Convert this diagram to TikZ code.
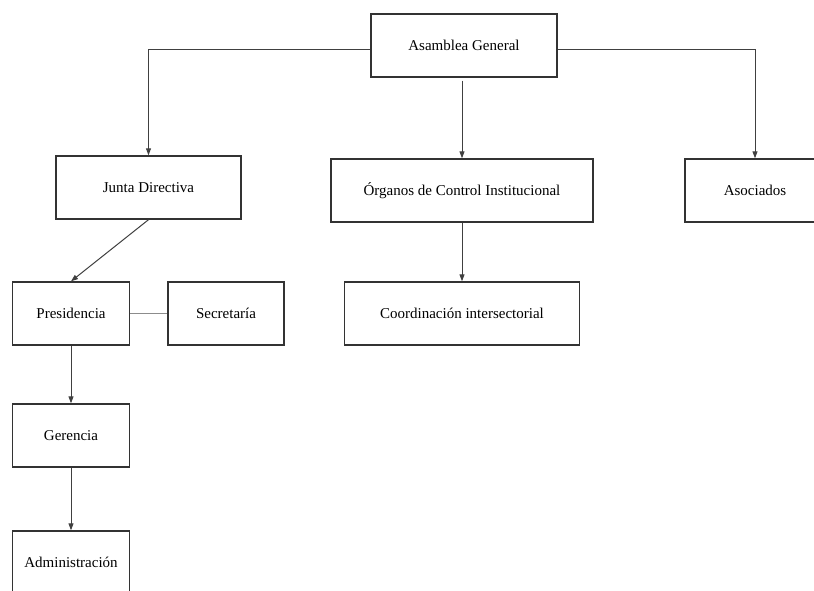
\documentclass[tikz,border=0pt]{standalone}
\usepackage{fontspec}
\setmainfont{Liberation Serif}
\usetikzlibrary{arrows.meta}
\definecolor{boxline}{HTML}{333333}
\definecolor{conn}{HTML}{404040}
\definecolor{lightconn}{HTML}{8C8C8C}
\begin{document}
\begin{tikzpicture}[x=1pt,y=-1pt,
  orgbox/.style={draw=boxline,line width=1.4pt,rectangle,minimum height=63pt,inner sep=0pt,
    font=\fontsize{15}{18}\selectfont,text=black},
  arr/.style={draw=conn,line width=1pt,-{Triangle[width=5pt,length=7pt]}},
  plainline/.style={draw=lightconn,line width=1pt}]
\useasboundingbox (0,0) rectangle (814,590);
\fill[white] (0,0) rectangle (814,590);
\node[orgbox,minimum width=186pt] (asm) at (464,45.5) {Asamblea General};
\node[orgbox,minimum width=185pt] (junta) at (148.5,187.5) {Junta Directiva};
\node[orgbox,minimum width=262pt] (org) at (462,190.5) {Órganos de Control Institucional};
\node[orgbox,minimum width=140pt] (asoc) at (755,190.5) {Asociados};
\node[orgbox,minimum width=117pt] (pres) at (71,313.5) {Presidencia};
\node[orgbox,minimum width=116pt] (secr) at (226,313.5) {Secretaría};
\node[orgbox,minimum width=235pt] (coord) at (462,313.5) {Coordinación intersectorial};
\node[orgbox,minimum width=117pt] (ger) at (71,435.5) {Gerencia};
\node[orgbox,minimum width=117pt] (adm) at (71,562.5) {Administración};
\draw[arr] ([yshift=-3.5pt]asm.west) -| (junta.north);
\draw[arr] ([yshift=-3.5pt]asm.east) -| (asoc.north);
\draw[arr] ([yshift=-3pt]org.north |- asm.south) -- (org.north);
\draw[arr] (junta.south) -- (pres.north);
\draw[plainline] (pres.east) -- (secr.west);
\draw[arr] (org.south) -- (coord.north);
\draw[arr] (pres.south) -- (ger.north);
\draw[arr] (ger.south) -- (adm.north);
\end{tikzpicture}
\end{document}
